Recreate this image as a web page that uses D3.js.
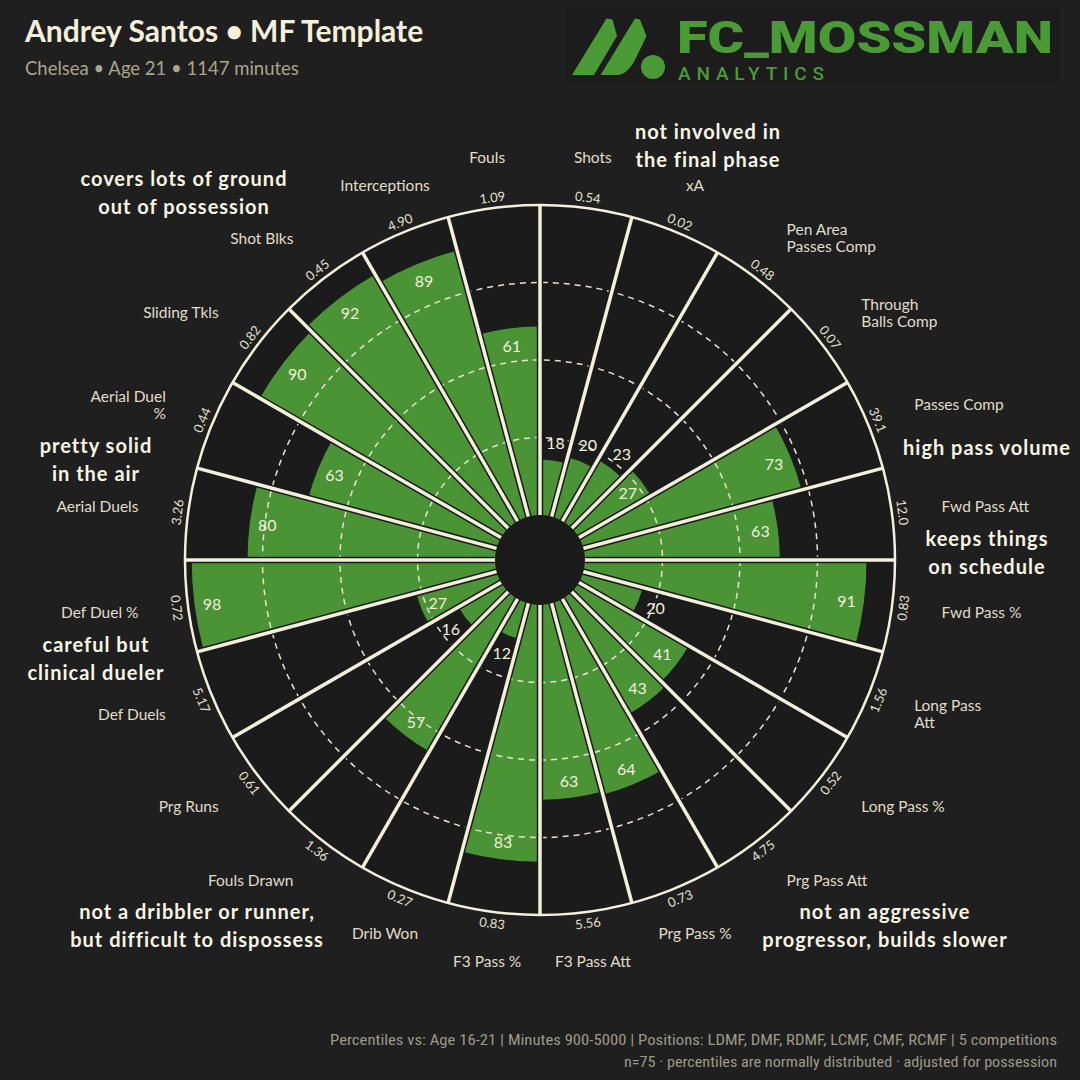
<!DOCTYPE html>
<html>
<head>
<meta charset="utf-8">
<title>Andrey Santos pizza</title>
<script src="https://d3js.org/d3.v7.min.js"></script>
<style>
  html, body { margin: 0; padding: 0; background: #1f1f1f; }
  svg { display: block; }
</style>
</head>
<body>
<svg width="1080" height="1080"></svg>
<script>
// data, clockwise from 12 o'clock
var categories = ["Shots", "xA", "Pen Area\nPasses Comp", "Through\nBalls Comp", "Passes Comp",
  "Fwd Pass Att", "Fwd Pass %", "Long Pass\nAtt", "Long Pass %", "Prg Pass Att", "Prg Pass %",
  "F3 Pass Att", "F3 Pass %", "Drib Won", "Fouls Drawn", "Prg Runs", "Def Duels", "Def Duel %",
  "Aerial Duels", "Aerial Duel\n%", "Sliding Tkls", "Shot Blks", "Interceptions", "Fouls"];
var percentiles = [18, 20, 23, 27, 73, 63, 91, 20, 41, 43, 64, 63, 83, 12, 57, 16, 27, 98, 80, 63, 90, 92, 89, 61];
var rawValues = ["0.54", "0.02", "0.48", "0.07", "39.1", "12.0", "0.83", "1.56", "0.52", "4.75", "0.73",
  "5.56", "0.83", "0.27", "1.36", "0.61", "5.17", "0.72", "3.26", "0.44", "0.82", "0.45", "4.90", "1.09"];
var gridTicks = [25, 50, 75];

var notes = [
  ["not involved in", "the final phase"],
  ["covers lots of ground", "out of possession"],
  ["pretty solid", "in the air"],
  ["high pass volume"],
  ["keeps things", "on schedule"],
  ["careful but", "clinical dueler"],
  ["not a dribbler or runner,", "but difficult to dispossess"],
  ["not an aggressive", "progressor, builds slower"]
];
var notePos = [[708, 133], [184, 180], [96, 447], [987, 449], [987, 540], [96, 646], [197, 913], [885, 913]];

var title = "Andrey Santos \u2022 MF Template";
var subtitle = "Chelsea \u2022 Age 21 \u2022 1147 minutes";
var footer = ["Percentiles vs: Age 16-21 | Minutes 900-5000 | Positions: LDMF, DMF, RDMF, LCMF, CMF, RCMF | 5 competitions",
  "n=75 \u00b7 percentiles are normally distributed \u00b7 adjusted for possession"];

var cream = "#f3efdc", green = "#4a9436", dark = "#1b1b1b";
var font = "Lato, 'Noto Sans', sans-serif";

var svg = d3.select("svg");
svg.append("rect").attr("width", 1080).attr("height", 1080).attr("fill", "#1f1f1f");

var cx = 540, cy = 560, R = 355, r0 = 45;
var data = categories.map(function(c, i){ return {cat: c, v: percentiles[i], raw: rawValues[i]}; });

var angle = d3.scaleBand().domain(categories).range([0, 2 * Math.PI]);
var r = d3.scaleLinear().domain([0, 100]).range([r0, R]);
function mid(d){ return angle(d.cat) + angle.bandwidth() / 2; }
function px(a, rad){ return rad * Math.sin(a); }
function py(a, rad){ return -rad * Math.cos(a); }

var g = svg.append("g").attr("transform", "translate(" + cx + "," + cy + ")");

// background disc
g.append("circle").attr("r", R).attr("fill", dark);

// bars
var arc = d3.arc()
  .innerRadius(0)
  .outerRadius(function(d){ return r(d.v); })
  .startAngle(function(d){ return angle(d.cat); })
  .endAngle(function(d){ return angle(d.cat) + angle.bandwidth(); });
g.append("g").selectAll("path")
  .data(data)
  .enter()
  .append("path")
  .attr("d", arc)
  .attr("fill", green)
  .attr("stroke", dark)
  .attr("stroke-width", 1);

// dashed rings
g.append("g").selectAll("circle")
  .data(gridTicks)
  .enter()
  .append("circle")
  .attr("r", function(t){ return r(t); })
  .attr("fill", "none")
  .attr("stroke", "#e6e2cf")
  .attr("stroke-width", 1.5)
  .attr("stroke-dasharray", "6,5");

// separators
var seps = g.append("g");
[[dark, 6.5], [cream, 3.5]].forEach(function(s){
  seps.selectAll(null)
    .data(data)
    .enter()
    .append("line")
    .attr("x1", 0).attr("y1", 0)
    .attr("x2", function(d){ return px(angle(d.cat), R); })
    .attr("y2", function(d){ return py(angle(d.cat), R); })
    .attr("stroke", s[0])
    .attr("stroke-width", s[1]);
});

g.append("circle").attr("r", R).attr("fill", "none").attr("stroke", cream).attr("stroke-width", 2.5);
g.append("circle").attr("r", r0).attr("fill", dark);

// percentile labels
g.append("g").selectAll("text")
  .data(data)
  .enter()
  .append("text")
  .attr("x", function(d){ var rr = d.v < 25 ? r(d.v) + 18 : r(d.v) - 18; return px(mid(d), rr); })
  .attr("y", function(d){ var rr = d.v < 25 ? r(d.v) + 18 : r(d.v) - 18; return py(mid(d), rr); })
  .attr("text-anchor", "middle")
  .attr("dominant-baseline", "central")
  .attr("font-family", font)
  .attr("font-size", 16)
  .attr("fill", cream)
  .text(function(d){ return d.v; });

// raw values along the rim
g.append("g").selectAll("text")
  .data(data)
  .enter()
  .append("text")
  .attr("transform", function(d){
    var a = mid(d), deg = a * 180 / Math.PI;
    var rot = (deg < 90) ? deg : (deg > 270 ? deg - 360 : deg - 180);
    return "translate(" + px(a, 366) + "," + py(a, 366) + ") rotate(" + rot + ")";
  })
  .attr("text-anchor", "middle")
  .attr("dominant-baseline", "central")
  .attr("font-family", font)
  .attr("font-size", 13)
  .attr("fill", "#e4e0cf")
  .text(function(d){ return d.raw; });

// category labels
var cats = g.append("g").selectAll("text")
  .data(data)
  .enter()
  .append("text")
  .attr("transform", function(d){
    var a = mid(d);
    return "translate(" + px(a, 405) + "," + py(a, 405) + ")";
  })
  .attr("text-anchor", function(d){
    var s = Math.sin(mid(d));
    return Math.abs(s) < 0.45 ? "middle" : (s > 0 ? "start" : "end");
  })
  .attr("font-family", font)
  .attr("font-size", 15.5)
  .attr("fill", "#e0dccb");
cats.each(function(d){
  var lines = d.cat.split("\n");
  var t = d3.select(this);
  lines.forEach(function(l, i){
    t.append("tspan")
      .attr("x", 0)
      .attr("dy", i === 0 ? (-(lines.length - 1) / 2 * 17 + 5) : 17)
      .text(l);
  });
});

// annotations
var ann = svg.append("g")
  .attr("font-family", font)
  .attr("font-weight", "bold")
  .attr("font-size", 20)
  .attr("letter-spacing", 1)
  .attr("fill", "#f8f5e6")
  .attr("text-anchor", "middle");
notes.forEach(function(lines, i){
  lines.forEach(function(l, j){
    ann.append("text")
      .attr("x", notePos[i][0])
      .attr("y", notePos[i][1] + j * 28 + 6)
      .text(l);
  });
});

// title
svg.append("text").attr("x", 25).attr("y", 42)
  .attr("font-family", font).attr("font-weight", "bold").attr("font-size", 30)
  .attr("fill", "#f4f0dc").text(title);
svg.append("text").attr("x", 25).attr("y", 75)
  .attr("font-family", font).attr("font-size", 18.5)
  .attr("fill", "#a9a58c").text(subtitle);

// footer
var footW = [727, 433];
footer.forEach(function(f, i){
  svg.append("text")
    .attr("x", 1057).attr("y", 1045 + i * 22)
    .attr("text-anchor", "end")
    .attr("font-family", "'Liberation Sans Narrow', 'Roboto Condensed', sans-serif")
    .attr("font-size", 14)
    .attr("textLength", footW[i])
    .attr("lengthAdjust", "spacingAndGlyphs")
    .attr("fill", "#9d9986")
    .text(f);
});

// logo
var logo = svg.append("g");
logo.append("rect").attr("x", 565).attr("y", 8).attr("width", 495).attr("height", 77).attr("fill", "#1c1c1c");
logo.append("path")
  .attr("d", "M572,75 L606.5,18.5 L612.5,19.5 L617,36 L594,75 Z")
  .attr("fill", "#4a9a35");
logo.append("path")
  .attr("d", "M600.5,75 L635,18.5 L640,19.5 L646.5,36 L636,58 Q628,74 618,75 Z")
  .attr("fill", "#4a9a35");
logo.append("circle").attr("cx", 653).attr("cy", 67).attr("r", 12).attr("fill", "#4a9a35");
logo.append("text").attr("x", 677).attr("y", 53)
  .attr("font-family", "Roboto, 'DejaVu Sans', sans-serif").attr("font-weight", 900)
  .attr("font-size", 45).attr("textLength", 376).attr("lengthAdjust", "spacingAndGlyphs")
  .attr("fill", "#4a9a35").text("FC_MOSSMAN");
logo.append("text").attr("x", 678).attr("y", 80)
  .attr("font-family", "Roboto, 'DejaVu Sans', sans-serif").attr("font-weight", 500)
  .attr("font-size", 19).attr("textLength", 146).attr("lengthAdjust", "spacing")
  .attr("fill", "#4a9a35").text("ANALYTICS");
</script>
</body>
</html>
